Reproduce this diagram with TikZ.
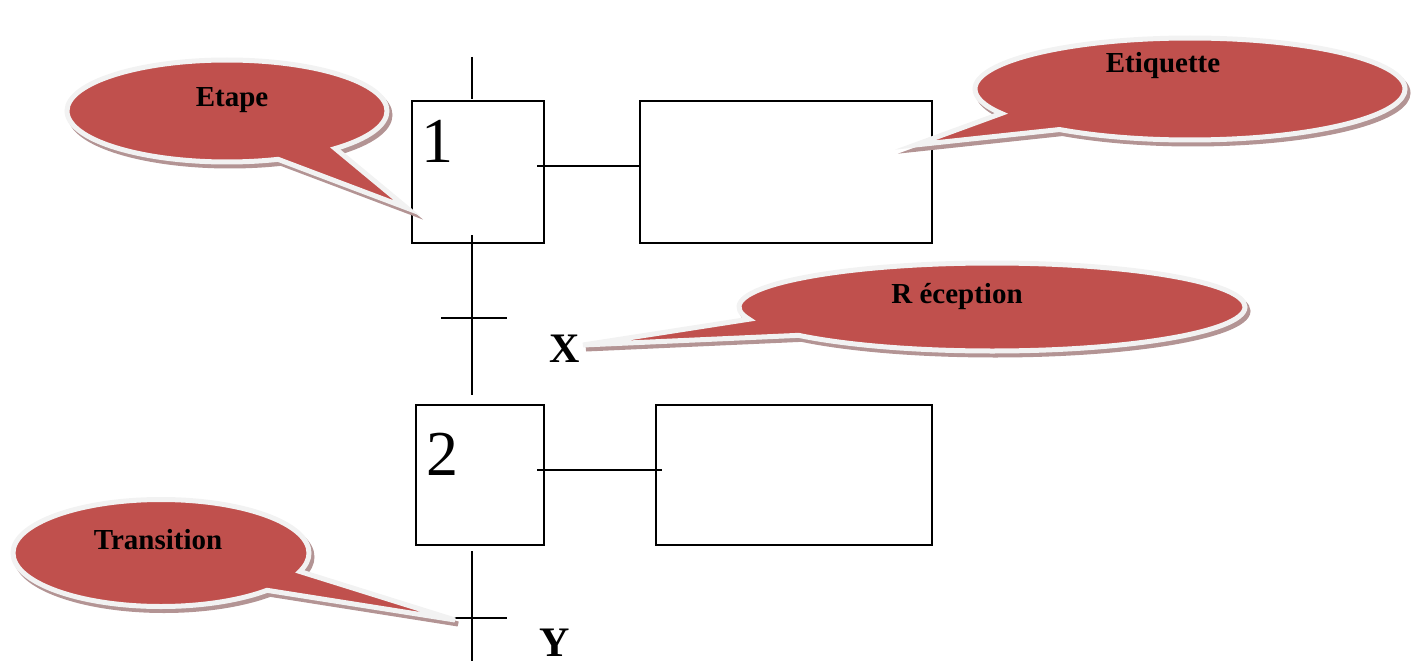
\documentclass[tikz,border=0pt]{standalone}
\usepackage{fontspec}
\setmainfont{Liberation Serif}
\usetikzlibrary{shapes.callouts,shadows}
\definecolor{bubblered}{HTML}{C0504D}
\definecolor{bubbleedge}{HTML}{F2F2F2}
\definecolor{bubbleshade}{HTML}{B39494}

\begin{document}
\begin{tikzpicture}[x=1pt,y=-1pt,
  box/.style={draw, line width=1.6pt, rectangle, inner sep=0pt},
  link/.style={line width=1.3pt},
  bubble/.style={ellipse callout, fill=bubblered, draw=bubbleedge,
    line width=5pt, inner sep=0pt, callout pointer arc=24,
    drop shadow={shadow xshift=3pt, shadow yshift=-4pt, opacity=1,
      fill=bubbleshade, draw=bubbleshade, line width=5pt}},
  bubbletext/.style={font=\fontsize{29}{34}\selectfont\bfseries, inner sep=0pt},
  numtext/.style={font=\fontsize{64}{70}\selectfont, inner sep=0pt, anchor=base west},
  vartext/.style={font=\fontsize{42}{48}\selectfont\bfseries, inner sep=0pt, anchor=base west}]
\useasboundingbox (0,0) rectangle (1419,661);

% steps and their action boxes
\node[box, minimum width=132, minimum height=142] (step1) at (478,172) {};
\node[box, minimum width=292, minimum height=142] (act1) at (786,172) {};
\node[box, minimum width=128, minimum height=140] (step2) at (480,475) {};
\node[box, minimum width=276, minimum height=140] (act2) at (794,475) {};
\node[numtext] (n1) at (421,162) {1};
\node[numtext] (n2) at (426,475) {2};

% vertical flow line and transitions
\coordinate (top) at (472,57);
\coordinate (s1in) at (472,99);
\coordinate (s1out) at (472,235);
\coordinate (t1) at (472,318);
\coordinate (s2in) at (472,395);
\coordinate (s2out) at (472,551);
\coordinate (t2) at (472,618);
\coordinate (bot) at (472,661);
\draw[link] (top) -- (s1in);
\draw[link] (s1out) -- (t1) -- (s2in);
\draw[link] (s2out) -- (t2) -- (bot);
\draw[link] ([xshift=-31pt]t1) -- ([xshift=35pt]t1);
\draw[link] ([xshift=-31pt]t2) -- ([xshift=35pt]t2);
\node[vartext] (X) at (549,362) {X};
\node[vartext] (Y) at (539,656) {Y};

% links from steps to actions
\coordinate (a1) at (537,166);
\coordinate (a2) at (537,470);
\draw[link] (a1) -- (act1.west |- a1);
\draw[link] (a2) -- ([xshift=7pt]act2.west |- a2);

% callouts
\coordinate (pEtape) at (407,208);
\coordinate (pEtiq) at (915,145);
\coordinate (pRecep) at (583,345);
\coordinate (pTrans) at (455,620);
\node[bubble, minimum width=320, minimum height=102,
  callout absolute pointer={(pEtape)}] (bEtape) at (227,111) {};
\node[bubble, minimum width=430, minimum height=102,
  callout absolute pointer={(pEtiq)}] (bEtiq) at (1190,89) {};
\node[bubble, minimum width=506, minimum height=88,
  callout absolute pointer={(pRecep)}] (bRecep) at (992,307) {};
\node[bubble, minimum width=296, minimum height=107,
  callout absolute pointer={(pTrans)}] (bTrans) at (161,553) {};

\node[bubbletext] (tEtape) at (232,100) {Etape};
\node[bubbletext] (tEtiq) at (1163,66) {Etiquette};
\node[bubbletext] (tRecep) at (957,297) {R éception};
\node[bubbletext] (tTrans) at (158,540) {Transition};
\end{tikzpicture}
\end{document}
